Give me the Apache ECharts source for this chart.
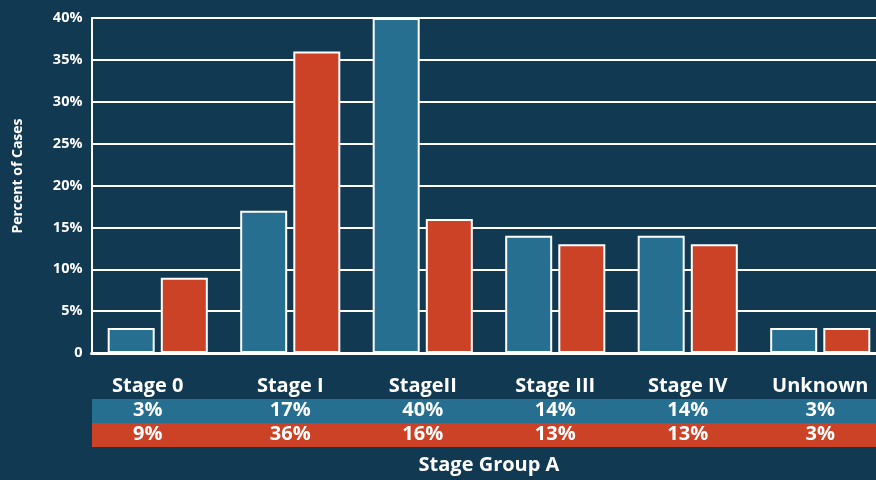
<!DOCTYPE html>
<html>
<head>
<meta charset="utf-8">
<script src="https://cdn.jsdelivr.net/npm/echarts@6/dist/echarts.min.js"></script>
<style>
  html, body { margin: 0; padding: 0; background: #113952; }
  #chart { width: 876px; height: 480px; }
</style>
</head>
<body>
<div id="chart"></div>
<script>
// Stage distribution for two groups, percent of cases
const categories = ['Stage 0', 'Stage I', 'StageII', 'Stage III', 'Stage IV', 'Unknown'];
const seriesA = [3, 17, 40, 14, 14, 3];
const seriesB = [9, 36, 16, 13, 13, 3];
const yTicks = [0, 5, 10, 15, 20, 25, 30, 35, 40];

const BG = '#113952';
const BLUE = '#266f90';
const RED = '#cb4227';
const FONT = 'Open Sans';

const chart = echarts.init(document.getElementById('chart'), null, { renderer: 'canvas' });

const cell = { fontFamily: FONT, fontWeight: 'bold', fontSize: 20, color: '#fff', lineHeight: 24, align: 'center' };
const richStyles = {
  n: cell,
  v: cell,
  // first column of the table sits a little left of its bar group
  n0: Object.assign({}, cell, { padding: [0, 20, 0, 0] }),
  v0: Object.assign({}, cell, { padding: [0, 20, 0, 0] })
};

chart.setOption({
  backgroundColor: BG,
  animation: false,
  grid: { left: 91.5, width: 795, top: 18, bottom: 127, containLabel: false, outerBoundsMode: 'none' },
  graphic: [
    { type: 'rect', shape: { x: 92, y: 399, width: 800, height: 24 }, style: { fill: BLUE }, z: 0 },
    { type: 'rect', shape: { x: 92, y: 423, width: 800, height: 24 }, style: { fill: RED }, z: 0 },
    {
      type: 'text', x: 18, y: 176, rotation: Math.PI / 2,
      style: { text: 'Percent of Cases', fill: '#fff', font: 'bold 14px "Open Sans"', align: 'center', verticalAlign: 'middle' }
    }
  ],
  xAxis: {
    type: 'category',
    data: categories,
    name: 'Stage Group A',
    nameLocation: 'middle',
    nameGap: 102,
    nameTextStyle: { color: '#fff', fontFamily: FONT, fontWeight: 'bold', fontSize: 20, verticalAlign: 'top' },
    axisLine: { show: true, lineStyle: { color: '#fff', width: 3 } },
    axisTick: { show: false },
    splitLine: { show: false },
    axisLabel: {
      interval: 0,
      margin: 21,
      formatter: function (value, idx) {
        const s = idx === 0 ? '0' : '';
        return '{n' + s + '|' + value + '}\n{v' + s + '|' + seriesA[idx] + '%}\n{v' + s + '|' + seriesB[idx] + '%}';
      },
      rich: richStyles
    }
  },
  yAxis: {
    type: 'value',
    min: yTicks[0],
    max: yTicks[yTicks.length - 1],
    interval: 5,
    axisLine: { show: true, lineStyle: { color: '#fff', width: 2 } },
    axisTick: { show: false },
    splitLine: { show: true, lineStyle: { color: '#fff', width: 2 } },
    axisLabel: {
      color: '#fff', fontFamily: FONT, fontWeight: 'bold', fontSize: 14.5, margin: 9,
      formatter: v => (v === 0 ? '0' : v + '%')
    }
  },
  series: [
    {
      type: 'bar', data: seriesA, barWidth: 47, barGap: '13%',
      itemStyle: { color: BLUE, borderColor: '#fff', borderWidth: 2 }
    },
    {
      type: 'bar', data: seriesB, barWidth: 47,
      itemStyle: { color: RED, borderColor: '#fff', borderWidth: 2 }
    }
  ]
});
</script>
</body>
</html>
